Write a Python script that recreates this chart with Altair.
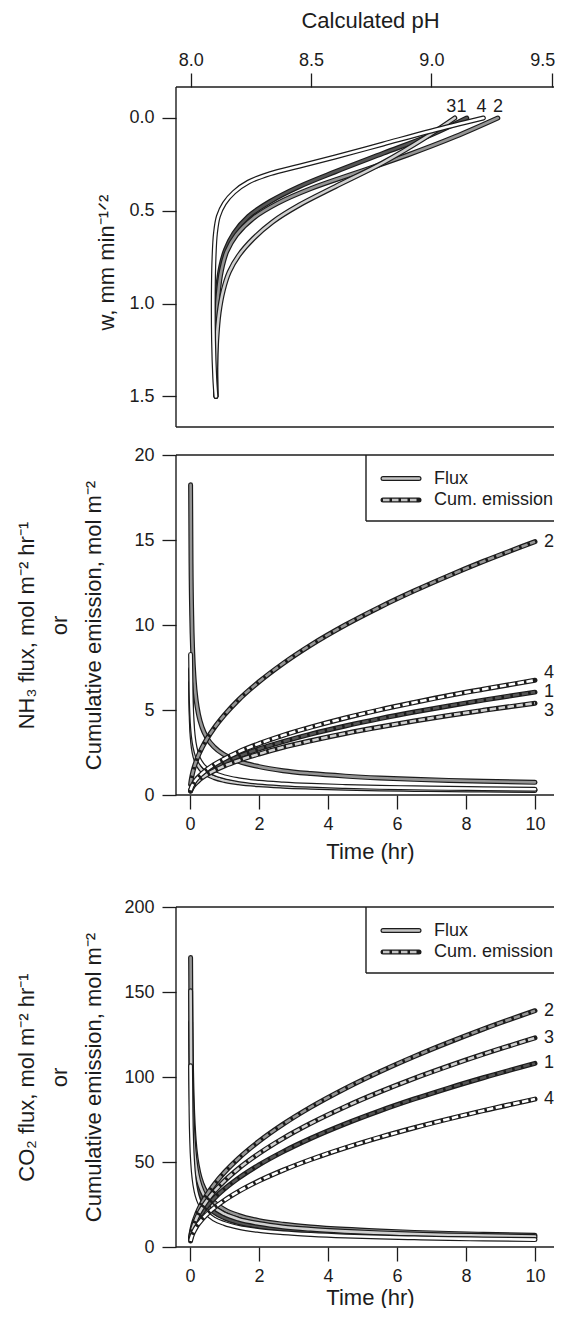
import altair as alt
import pandas as pd

# ---------------- data ----------------
# Panel 1: w (mm min^-1/2) against calculated pH, scenarios 1-4
w_s1 = [0.0, 0.09, 0.19, 0.29, 0.37, 0.45, 0.53, 0.62, 0.71, 0.80, 0.92, 1.10, 1.30, 1.50]
ph_s1 = [9.147, 9.00, 8.80, 8.60, 8.45, 8.33, 8.24, 8.18, 8.145, 8.125, 8.112, 8.105, 8.103, 8.105]
w_s2 = [0.0, 0.10, 0.20, 0.29, 0.38, 0.46, 0.54, 0.63, 0.72, 0.82, 0.95, 1.15, 1.35, 1.50]
ph_s2 = [9.276, 9.10, 8.90, 8.70, 8.50, 8.36, 8.26, 8.19, 8.15, 8.128, 8.114, 8.106, 8.104, 8.105]
w_s3 = [0.0, 0.11, 0.24, 0.37, 0.47, 0.56, 0.65, 0.74, 0.83, 0.93, 1.05, 1.20, 1.35, 1.50]
ph_s3 = [9.097, 8.97, 8.80, 8.60, 8.45, 8.34, 8.26, 8.20, 8.16, 8.135, 8.118, 8.108, 8.104, 8.105]
w_s4 = [0.0, 0.07, 0.14, 0.21, 0.26, 0.30, 0.345, 0.40, 0.46, 0.53, 0.62, 0.75, 0.95, 1.20, 1.40, 1.50]
ph_s4 = [9.216, 9.00, 8.80, 8.60, 8.45, 8.33, 8.24, 8.18, 8.14, 8.115, 8.103, 8.097, 8.094, 8.095, 8.100, 8.105]
top_labels = ["3", "1", "4", "2"]
top_label_ph = [9.083, 9.125, 9.208, 9.277]

# Panels 2 and 3: time axis
time_hr = [0.0167, 0.03, 0.05, 0.08, 0.12, 0.18, 0.25, 0.35, 0.5, 0.7, 1.0,
           1.4, 2.0, 2.7, 3.5, 4.5, 5.5, 6.5, 7.5, 8.5, 10.0]

# NH3 flux (mol m-2 hr-1)
nh3_flux_s1 = [7.41, 5.53, 4.28, 3.38, 2.76, 2.26, 1.91, 1.62, 1.35, 1.14, 0.96, 0.81, 0.68, 0.58, 0.51, 0.45, 0.41, 0.38, 0.35, 0.33, 0.30]
nh3_flux_s2 = [18.25, 13.60, 10.54, 8.33, 6.80, 5.55, 4.71, 3.98, 3.33, 2.82, 2.36, 1.99, 1.67, 1.43, 1.26, 1.11, 1.00, 0.92, 0.86, 0.81, 0.745]
nh3_flux_s3 = [6.62, 4.93, 3.82, 3.02, 2.47, 2.01, 1.71, 1.44, 1.21, 1.02, 0.85, 0.72, 0.60, 0.52, 0.46, 0.40, 0.36, 0.33, 0.31, 0.29, 0.27]
nh3_flux_s4 = [8.27, 6.16, 4.77, 3.77, 3.08, 2.51, 2.13, 1.80, 1.51, 1.28, 1.07, 0.90, 0.75, 0.65, 0.57, 0.50, 0.45, 0.42, 0.39, 0.37, 0.34]
# NH3 cumulative emission (mol m-2)
nh3_cum_s1 = [0.25, 0.33, 0.43, 0.54, 0.66, 0.81, 0.96, 1.13, 1.35, 1.60, 1.91, 2.26, 2.71, 3.14, 3.58, 4.06, 4.49, 4.88, 5.24, 5.58, 6.05]
nh3_cum_s2 = [0.61, 0.82, 1.05, 1.33, 1.63, 2.00, 2.36, 2.79, 3.33, 3.94, 4.71, 5.58, 6.66, 7.74, 8.82, 10.0, 11.05, 12.01, 12.90, 13.74, 14.90]
nh3_cum_s3 = [0.22, 0.30, 0.38, 0.48, 0.59, 0.72, 0.85, 1.01, 1.21, 1.43, 1.71, 2.02, 2.41, 2.81, 3.19, 3.62, 4.00, 4.35, 4.68, 4.98, 5.40]
nh3_cum_s4 = [0.28, 0.37, 0.48, 0.60, 0.74, 0.91, 1.07, 1.26, 1.51, 1.79, 2.13, 2.53, 3.02, 3.51, 3.99, 4.53, 5.01, 5.44, 5.85, 6.22, 6.75]
nh3_end_labels = ["2", "4", "1", "3"]
nh3_end_label_y = [14.9, 7.15, 6.05, 4.95]

# CO2 flux (mol m-2 hr-1)
co2_flux_s1 = [132.3, 98.6, 76.4, 60.4, 49.3, 40.3, 34.2, 28.9, 24.2, 20.4, 17.1, 14.4, 12.1, 10.4, 9.1, 8.0, 7.3, 6.7, 6.2, 5.9, 5.4]
co2_flux_s2 = [170.3, 126.9, 98.3, 77.7, 63.5, 51.8, 44.0, 37.1, 31.1, 26.3, 22.0, 18.6, 15.5, 13.4, 11.8, 10.4, 9.4, 8.6, 8.0, 7.5, 6.95]
co2_flux_s3 = [150.7, 112.3, 87.0, 68.8, 56.2, 45.8, 38.9, 32.9, 27.5, 23.2, 19.45, 16.4, 13.8, 11.8, 10.4, 9.2, 8.3, 7.6, 7.1, 6.7, 6.15]
co2_flux_s4 = [106.6, 79.4, 61.5, 48.7, 39.7, 32.4, 27.5, 23.3, 19.5, 16.4, 13.8, 11.6, 9.7, 8.4, 7.4, 6.5, 5.9, 5.4, 5.0, 4.7, 4.35]
# CO2 cumulative emission (mol m-2)
co2_cum_s1 = [4.41, 5.91, 7.64, 9.66, 11.83, 14.49, 17.08, 20.20, 24.15, 28.57, 34.15, 40.41, 48.30, 56.12, 63.89, 72.44, 80.09, 87.07, 93.52, 99.56, 108.0]
co2_cum_s2 = [5.68, 7.61, 9.83, 12.43, 15.23, 18.65, 21.98, 26.01, 31.08, 36.78, 43.96, 52.01, 62.17, 72.24, 82.24, 93.25, 103.1, 112.1, 120.4, 128.2, 139.0]
co2_cum_s3 = [5.02, 6.74, 8.70, 11.00, 13.47, 16.50, 19.45, 23.01, 27.51, 32.55, 38.90, 46.03, 55.01, 63.92, 72.77, 82.52, 91.23, 99.18, 106.5, 113.4, 123.0]
co2_cum_s4 = [3.55, 4.76, 6.15, 7.78, 9.53, 11.67, 13.76, 16.27, 19.45, 23.02, 27.51, 32.55, 38.91, 45.20, 51.47, 58.36, 64.52, 70.14, 75.34, 80.21, 87.0]
co2_end_labels = ["2", "3", "1", "4"]
co2_end_label_y = [139.0, 123.0, 108.0, 87.0]

# ---------------- style ----------------
FONT = "Liberation Sans"
INK = "#1c1c1c"
FILLS = {"1": "#555555", "2": "#959595", "3": "#d0d0d0", "4": "#ffffff"}
LEGEND_FILL = "#c4c4c4"
W = 378
H = 340
one = pd.DataFrame({"k": [0]})


def series_df(xs, ys):
    return pd.DataFrame({"x": xs, "y": ys, "i": list(range(len(xs)))})


def doubled(df, fill, dashed, interp, X, Y):
    base = alt.Chart(df).encode(x=X, y=Y, order=alt.Order("i:Q"))
    outer = base.mark_line(stroke=INK, strokeWidth=5, strokeCap="round",
                           strokeJoin="round", interpolate=interp)
    if dashed:
        inner = base.mark_line(stroke=fill, strokeWidth=2.6, strokeCap="butt",
                               strokeJoin="round", strokeDash=[6.5, 2.5],
                               interpolate=interp)
    else:
        inner = base.mark_line(stroke=fill, strokeWidth=2.6, strokeCap="round",
                               strokeJoin="round", interpolate=interp)
    return [outer, inner]


def frame():
    r = alt.Chart(one).mark_rule(stroke=INK, strokeWidth=1.4)
    return [
        r.encode(x=alt.value(0), x2=alt.value(W), y=alt.value(0)),
        r.encode(x=alt.value(0), y=alt.value(0), y2=alt.value(H)),
        r.encode(x=alt.value(0), x2=alt.value(W), y=alt.value(H)),
    ]


def ghost(x=None, y=None):
    if x is not None:
        enc = dict(x=alt.value(x), y=alt.value(0), y2=alt.value(1))
    else:
        enc = dict(y=alt.value(y), x=alt.value(0), x2=alt.value(1))
    return alt.Chart(one).mark_rule(stroke="white", strokeOpacity=0).encode(**enc)


def legend(row1, row2, bottom):
    r = alt.Chart(one)
    box = r.mark_rule(stroke=INK, strokeWidth=1.4)
    lay = [
        box.encode(x=alt.value(190), y=alt.value(0), y2=alt.value(bottom)),
        box.encode(x=alt.value(190), x2=alt.value(W), y=alt.value(bottom)),
    ]
    for yy, dashed in ((row1, False), (row2, True)):
        lay.append(r.mark_rule(stroke=INK, strokeWidth=5, strokeCap="round")
                   .encode(x=alt.value(207), x2=alt.value(243), y=alt.value(yy)))
        if dashed:
            lay.append(r.mark_rule(stroke=LEGEND_FILL, strokeWidth=2.6, strokeCap="butt",
                                   strokeDash=[6.5, 2.5])
                       .encode(x=alt.value(207), x2=alt.value(243), y=alt.value(yy)))
        else:
            lay.append(r.mark_rule(stroke=LEGEND_FILL, strokeWidth=2.6, strokeCap="round")
                       .encode(x=alt.value(207), x2=alt.value(243), y=alt.value(yy)))
    for yy, txt in ((row1, "Flux"), (row2, "Cum. emission")):
        lay.append(r.mark_text(text=txt, font=FONT, fontSize=18, align="left",
                               baseline="middle", color=INK)
                   .encode(x=alt.value(258), y=alt.value(yy)))
    return lay


# ---------------- panel 1 ----------------
X1 = alt.X("x:Q", scale=alt.Scale(domain=[7.939, 9.5094], nice=False, zero=False),
           axis=alt.Axis(orient="top", values=[8.0, 8.5, 9.0, 9.5], format=".1f",
                         title="Calculated pH", titleX=194, titleY=-60,
                         titleAlign="center", titleBaseline="alphabetic", titleAngle=0,
                         labelBaseline="alphabetic", labelPadding=8, tickSize=14,
                         domain=False, grid=False, labelFlush=5, labelFlushOffset=3,
                         labelOverlap=False))
Y1 = alt.Y("y:Q", scale=alt.Scale(domain=[-0.167, 1.665], reverse=True, nice=False, zero=False),
           axis=alt.Axis(orient="left", values=[0.0, 0.5, 1.0, 1.5], format=".1f",
                         title="w, mm min⁻¹ᐟ²", titleAngle=270, titleX=-63, titleY=175,
                         titleAlign="center", titleBaseline="alphabetic",
                         labelPadding=8, tickSize=14, domain=False, grid=False,
                         labelFlush=False, labelOverlap=False))

p1_layers = frame()
for sid, ph, w in (("1", ph_s1, w_s1), ("2", ph_s2, w_s2), ("3", ph_s3, w_s3), ("4", ph_s4, w_s4)):
    p1_layers += doubled(series_df(ph, w), FILLS[sid], False, "catmull-rom", X1, Y1)
lab1 = pd.DataFrame({"x": top_label_ph, "y": [-0.061] * 4, "label": top_labels})
p1_layers.append(alt.Chart(lab1).mark_text(font=FONT, fontSize=18, align="center",
                                           baseline="middle", color=INK)
                 .encode(x=X1, y=Y1, text="label:N"))
p1_layers += [ghost(x=-168), ghost(y=-79), ghost(y=H + 14)]
panel1 = alt.layer(*p1_layers).properties(width=W, height=H)


# ---------------- panels 2 and 3 ----------------
def time_panel(flux, cum, end_labels, end_label_y, ydom, yvals, ytitle, title_y,
               top_ghost, bottom_ghost):
    X = alt.X("x:Q", scale=alt.Scale(domain=[-0.406, 10.551], nice=False, zero=False),
              axis=alt.Axis(orient="bottom", values=[0, 2, 4, 6, 8, 10], format="d",
                            title="Time (hr)", titleX=194, titleY=title_y,
                            titleAlign="center", titleBaseline="alphabetic",
                            labelPadding=6, tickSize=14, domain=False, grid=False,
                            labelFlush=False, labelOverlap=False))
    Y = alt.Y("y:Q", scale=alt.Scale(domain=ydom, nice=False, zero=False),
              axis=alt.Axis(orient="left", values=yvals, format="d", title=ytitle,
                            titleAngle=270, titleX=-143, titleY=170, titleAlign="center",
                            titleBaseline="alphabetic", titleLineHeight=33.5,
                            labelPadding=8, tickSize=14, domain=False, grid=False,
                            labelFlush=False, labelOverlap=False))
    layers = frame()
    for sid in ("1", "2", "3", "4"):
        layers += doubled(series_df(time_hr, flux[sid]), FILLS[sid], False, "monotone", X, Y)
    for sid in ("1", "2", "3", "4"):
        layers += doubled(series_df(time_hr, cum[sid]), FILLS[sid], True, "monotone", X, Y)
    labs = pd.DataFrame({"x": [10.0] * 4, "y": end_label_y, "label": end_labels})
    layers.append(alt.Chart(labs).mark_text(font=FONT, fontSize=18, align="left",
                                            baseline="middle", dx=9, color=INK)
                  .encode(x=X, y=Y, text="label:N"))
    layers += legend(23.5, 45, 66)
    if top_ghost is not None:
        layers.append(ghost(y=top_ghost))
    if bottom_ghost is not None:
        layers.append(ghost(y=bottom_ghost))
    return alt.layer(*layers).properties(width=W, height=H)


panel2 = time_panel(
    {"1": nh3_flux_s1, "2": nh3_flux_s2, "3": nh3_flux_s3, "4": nh3_flux_s4},
    {"1": nh3_cum_s1, "2": nh3_cum_s2, "3": nh3_cum_s3, "4": nh3_cum_s4},
    nh3_end_labels, nh3_end_label_y, [0, 20], [0, 5, 10, 15, 20],
    ["NH₃ flux, mol m⁻² hr⁻¹", "or", "Cumulative emission, mol m⁻²"],
    63, -14, H + 80)

panel3 = time_panel(
    {"1": co2_flux_s1, "2": co2_flux_s2, "3": co2_flux_s3, "4": co2_flux_s4},
    {"1": co2_cum_s1, "2": co2_cum_s2, "3": co2_cum_s3, "4": co2_cum_s4},
    co2_end_labels, co2_end_label_y, [0, 200], [0, 50, 100, 150, 200],
    ["CO₂ flux, mol m⁻² hr⁻¹", "or", "Cumulative emission, mol m⁻²"],
    57, -31.7, None)

chart = (
    alt.vconcat(panel1, panel2, panel3, spacing=0)
    .properties(padding=0, background="white")
    .configure_view(stroke=None)
    .configure_axis(labelFont=FONT, titleFont=FONT, labelFontSize=18, titleFontSize=22,
                    titleFontWeight="normal", labelColor=INK, titleColor=INK,
                    tickColor=INK, tickWidth=1.3)
)

chart.save("out.html", embed_options={"renderer": "svg", "actions": False})
